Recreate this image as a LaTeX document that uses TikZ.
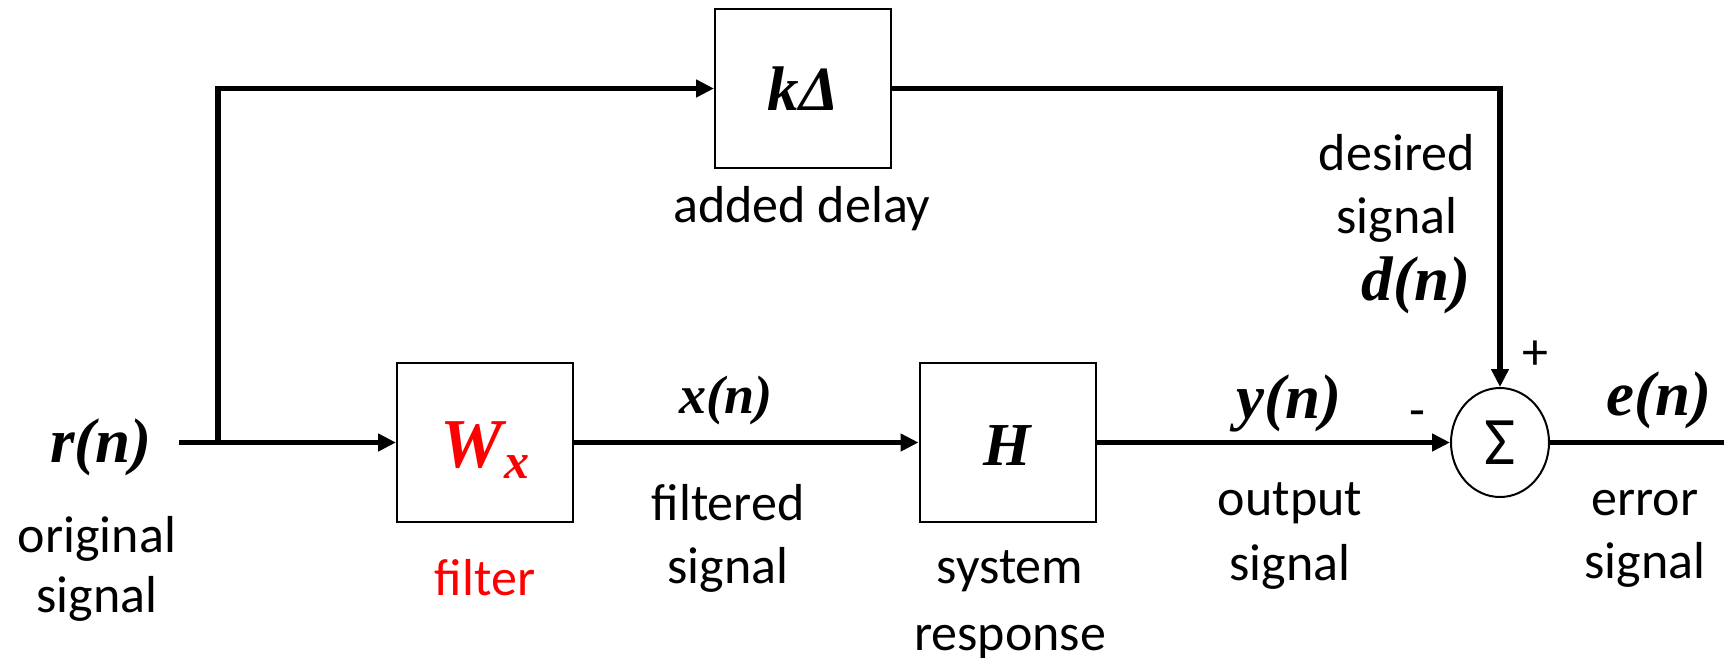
\documentclass[tikz,border=0pt]{standalone}
\usepackage{fontspec}
\setmainfont{Carlito}
\newfontfamily\mf{Liberation Serif}
\usetikzlibrary{arrows.meta,shapes.geometric}
\definecolor{fred}{RGB}{255,0,0}
\begin{document}
\begin{tikzpicture}[x=1pt,y=-1pt,
  blk/.style={draw, line width=2pt, minimum width=176pt, minimum height=159pt, inner sep=0pt},
  conn/.style={line width=5.8pt, -{Triangle[length=18pt,width=17pt]}},
  lbl/.style={font=\fontsize{52}{63}\selectfont, align=center, anchor=base, inner sep=0pt},
  sig/.style={font=\fontsize{63}{63}\selectfont\mf\bfseries\itshape, anchor=base, inner sep=0pt},
  pm/.style={font=\fontsize{52}{52}\selectfont, inner sep=0pt}]
\useasboundingbox (0,0) rectangle (1724,657);
\clip (0,0) rectangle (1724,657);
% blocks
\node[blk, text height=50pt, text depth=1pt] (Wx) at (485,442.5)
  {\mf\bfseries\itshape\color{fred}{\fontsize{70}{70}\selectfont W}\kern1pt\raisebox{-11pt}{\fontsize{50}{50}\selectfont x}\hspace{8pt}};
\node[blk, text height=46pt, text depth=1pt, font=\fontsize{61}{61}\selectfont\mf\bfseries\itshape] (H) at (1007.5,442.5) {H};
\node[blk, text height=44pt, text depth=1pt, font=\fontsize{63}{63}\selectfont\mf\bfseries\itshape] (kd) at (803,88.5) {k\kern1pt Δ};
\node[draw, ellipse, line width=2pt, minimum width=98pt, minimum height=109pt, inner sep=0pt,
  font=\fontsize{68}{68}\selectfont] (sum) at (1500,442.5) {Σ};
% connectors
\coordinate (start) at (179,442.5);
\coordinate (j) at (218,442.5);
\coordinate (outend) at (1760,442.5);
\draw[conn] (start) -- (Wx.west);
\draw[conn] (j) |- (kd.west);
\draw[conn] (kd.east) -| (sum.north);
\draw[conn] (Wx.east) -- (H.west);
\draw[conn] (H.east) -- (sum.west);
\draw[conn] (sum.east) -- (outend);
% signal labels
\node[sig] (rn) at (101,462) {r(n)};
\node[sig, font=\fontsize{54}{54}\selectfont\mf\bfseries\itshape] (xn) at (726,413) {x(n)};
\node[sig] (yn) at (1289,418) {y(n)};
\node[sig] (dn) at (1416,300) {d(n)};
\node[sig] (en) at (1659,415) {e(n)};
% text labels (base anchor = baseline of last line)
\node[lbl, font=\fontsize{52}{60}\selectfont] (orig) at (97,612) {original\\signal};
\node[lbl, text=fred] (filt) at (485,595) {filter};
\node[lbl] (filtd) at (728,583) {filtered\\signal};
\node[lbl, font=\fontsize{52}{67}\selectfont] (sysr) at (1010,650) {system\\response};
\node[lbl, font=\fontsize{52}{65}\selectfont] (outs) at (1290,580) {output\\signal};
\node[lbl] (errs) at (1645,578) {error\\signal};
\node[lbl] (desd) at (1397,233) {desired\\signal};
\node[lbl] (addd) at (802,222) {added delay};
\node[pm] (minus) at (1417,419) {-};
\node[pm] (plus) at (1535,355) {+};
\end{tikzpicture}
\end{document}
